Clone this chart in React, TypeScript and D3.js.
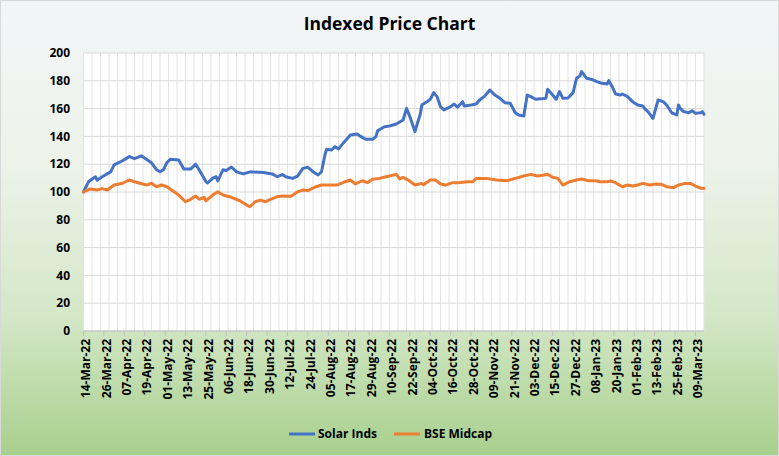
import React from 'react';
import * as d3 from 'd3';

const W = 779;
const H = 456;

const chartTitle = 'Indexed Price Chart';
const seriesNames = ['Solar Inds', 'BSE Midcap'];
const seriesColors = ['#4472c4', '#ed7d31'];
const axisStart = '2022-03-14';
const axisEnd = '2023-03-14';
const yTicks = [0, 20, 40, 60, 80, 100, 120, 140, 160, 180, 200];

const solarDates = [
  '2022-03-14', '2022-03-17', '2022-03-21', '2022-03-22', '2022-03-25', '2022-03-30', '2022-04-01', '2022-04-06',
  '2022-04-08', '2022-04-10', '2022-04-13', '2022-04-17', '2022-04-20', '2022-04-23', '2022-04-26', '2022-04-28',
  '2022-04-30', '2022-05-02', '2022-05-04', '2022-05-09', '2022-05-12', '2022-05-16', '2022-05-19', '2022-05-21',
  '2022-05-25', '2022-05-26', '2022-05-29', '2022-05-31', '2022-06-01', '2022-06-04', '2022-06-06', '2022-06-09',
  '2022-06-12', '2022-06-16', '2022-06-20', '2022-06-28', '2022-07-03', '2022-07-06', '2022-07-09', '2022-07-11',
  '2022-07-15', '2022-07-18', '2022-07-21', '2022-07-24', '2022-07-27', '2022-07-30', '2022-08-01', '2022-08-03',
  '2022-08-04', '2022-08-07', '2022-08-09', '2022-08-11', '2022-08-14', '2022-08-18', '2022-08-22', '2022-08-24',
  '2022-08-27', '2022-08-31', '2022-09-02', '2022-09-03', '2022-09-07', '2022-09-10', '2022-09-14', '2022-09-18',
  '2022-09-20', '2022-09-22', '2022-09-25', '2022-09-27', '2022-09-28', '2022-09-29', '2022-10-02', '2022-10-04',
  '2022-10-06', '2022-10-08', '2022-10-10', '2022-10-12', '2022-10-16', '2022-10-18', '2022-10-20', '2022-10-23',
  '2022-10-24', '2022-10-28', '2022-10-31', '2022-11-02', '2022-11-05', '2022-11-08', '2022-11-11', '2022-11-14',
  '2022-11-17', '2022-11-20', '2022-11-23', '2022-11-25', '2022-11-28', '2022-11-30', '2022-12-02', '2022-12-05',
  '2022-12-08', '2022-12-11', '2022-12-12', '2022-12-15', '2022-12-17', '2022-12-19', '2022-12-21', '2022-12-24',
  '2022-12-27', '2022-12-29', '2022-12-31', '2023-01-01', '2023-01-04', '2023-01-07', '2023-01-10', '2023-01-13',
  '2023-01-16', '2023-01-17', '2023-01-19', '2023-01-21', '2023-01-24', '2023-01-25', '2023-01-28', '2023-01-31',
  '2023-02-03', '2023-02-06', '2023-02-07', '2023-02-09', '2023-02-12', '2023-02-15', '2023-02-18', '2023-02-20',
  '2023-02-23', '2023-02-26', '2023-02-27', '2023-02-28', '2023-03-02', '2023-03-05', '2023-03-07', '2023-03-09',
  '2023-03-12', '2023-03-13', '2023-03-14',
];
const solarValues = [
  100, 107.5, 111, 108.5, 111, 114.5, 119.5, 122.5,
  124, 125.5, 124, 126, 123.5, 121, 116, 114.5,
  116, 121, 123.5, 123, 116.5, 116.5, 120, 116,
  107.5, 106.5, 110, 111, 108, 116, 115.5, 118,
  114.5, 113, 114.5, 114, 113, 111, 112.5, 111,
  109.8, 111.5, 117, 117.8, 114.6, 112.2, 114.6, 126.6,
  130.7, 130.2, 132.6, 131, 135.5, 141, 141.7, 140,
  137.9, 137.9, 139.8, 144, 147, 147.5, 148.9, 151.8,
  160.2, 154.2, 143.4, 151.8, 155.4, 162.6, 165, 166.7,
  171.5, 168.6, 161.4, 159, 161.4, 163.3, 161, 165,
  161.9, 162.6, 163.3, 166.2, 169, 173.4, 169.8, 167.4,
  164.2, 163.8, 157, 155.4, 154.7, 169.8, 168.6, 166.7,
  167, 167.4, 173.9, 169.8, 166.7, 172.2, 167.4, 167.6,
  171.5, 181.8, 183.5, 186.6, 181.8, 181, 179.4, 178.2,
  177.7, 180.1, 175.8, 170.5, 169.8, 170.5, 168.6, 165,
  162.6, 161.9, 160.2, 157.8, 153, 166.2, 165, 162.6,
  157, 155.4, 162.6, 160.2, 157.8, 157, 158.5, 156.6,
  157, 157.8, 155.9,
];

const bseDates = [
  '2022-03-14', '2022-03-18', '2022-03-22', '2022-03-25', '2022-03-28', '2022-04-01', '2022-04-06', '2022-04-09',
  '2022-04-10', '2022-04-13', '2022-04-20', '2022-04-23', '2022-04-26', '2022-04-29', '2022-05-02', '2022-05-09',
  '2022-05-13', '2022-05-16', '2022-05-19', '2022-05-21', '2022-05-24', '2022-05-25', '2022-05-29', '2022-06-01',
  '2022-06-04', '2022-06-09', '2022-06-14', '2022-06-18', '2022-06-20', '2022-06-23', '2022-06-26', '2022-06-29',
  '2022-07-02', '2022-07-06', '2022-07-09', '2022-07-14', '2022-07-18', '2022-07-21', '2022-07-24', '2022-07-28',
  '2022-08-01', '2022-08-06', '2022-08-10', '2022-08-15', '2022-08-18', '2022-08-21', '2022-08-25', '2022-08-28',
  '2022-08-31', '2022-09-04', '2022-09-08', '2022-09-14', '2022-09-16', '2022-09-18', '2022-09-21', '2022-09-25',
  '2022-09-29', '2022-09-30', '2022-10-04', '2022-10-07', '2022-10-10', '2022-10-13', '2022-10-17', '2022-10-20',
  '2022-10-26', '2022-10-29', '2022-10-31', '2022-11-06', '2022-11-12', '2022-11-18', '2022-11-23', '2022-11-28',
  '2022-12-02', '2022-12-06', '2022-12-09', '2022-12-12', '2022-12-15', '2022-12-18', '2022-12-21', '2022-12-25',
  '2022-12-29', '2023-01-01', '2023-01-05', '2023-01-09', '2023-01-12', '2023-01-16', '2023-01-18', '2023-01-21',
  '2023-01-25', '2023-01-28', '2023-01-31', '2023-02-03', '2023-02-06', '2023-02-10', '2023-02-14', '2023-02-17',
  '2023-02-20', '2023-02-24', '2023-02-27', '2023-03-03', '2023-03-06', '2023-03-09', '2023-03-12', '2023-03-14',
];
const bseValues = [
  100, 102.2, 101.4, 102.4, 101.4, 105, 106.3, 108.1,
  108.6, 107.4, 105, 106.3, 103.8, 105, 103.8, 97.8,
  93, 94.7, 97.1, 94.8, 96.2, 93.7, 97.8, 100.2,
  97.8, 96.2, 93.7, 90.6, 89.4, 93, 94.2, 93,
  94.7, 96.6, 97.1, 97, 100.2, 101.4, 101, 103.4,
  105, 105, 105, 107.4, 108.6, 105.8, 108.1, 106.7,
  109.1, 109.8, 111, 112.7, 109.4, 110.5, 108.6, 105,
  106.2, 105.2, 108.6, 108.6, 105.8, 105, 106.7, 106.7,
  107.4, 107.4, 109.8, 109.8, 108.6, 108.1, 109.8, 111.5,
  112.7, 111.5, 112, 112.7, 110.6, 109.8, 105, 107.4,
  108.6, 109.4, 108.1, 108.1, 107.4, 107.4, 107.9, 106.7,
  103.8, 105, 104.3, 105, 106.2, 105, 105.8, 105.5,
  103.8, 103.1, 105, 106.2, 106.2, 104.3, 102.7, 102.7,
];

const FONT = "'Open Sans', 'DejaVu Sans', sans-serif";

export default function App() {
  const parse = d3.utcParse('%Y-%m-%d');
  const start = parse(axisStart) as Date;
  const end = parse(axisEnd) as Date;

  const left = 83.5;
  const right = 704;
  const top = 53;
  const bottom = 331;

  const x = d3.scaleUtc().domain([start, end]).range([left, right]);
  const y = d3.scaleLinear().domain([0, 200]).range([bottom, top]);

  const labelTicks = d3.range(0, 366, 12).map((i) => d3.utcDay.offset(start, i));
  const gridTicks = d3.range(0, 366, 5).map((i) => d3.utcDay.offset(start, i));
  const fmt = d3.utcFormat('%d-%b-%y');

  const series = [
    { name: seriesNames[0], color: seriesColors[0], pts: solarDates.map((d, i) => [parse(d) as Date, solarValues[i]] as [Date, number]) },
    { name: seriesNames[1], color: seriesColors[1], pts: bseDates.map((d, i) => [parse(d) as Date, bseValues[i]] as [Date, number]) },
  ];

  const line = d3
    .line<[Date, number]>()
    .x((d) => x(d[0]))
    .y((d) => y(d[1]));

  const legendItems = [
    { lx: 289, tx: 318 },
    { lx: 394, tx: 424 },
  ];

  return (
    <div style={{ position: 'absolute', left: 0, top: 0 }}>
      <svg width={W} height={H} style={{ display: 'block' }} fontFamily={FONT}>
        <defs>
          <linearGradient id="bg" x1="0" y1="0" x2="0" y2="1">
            <stop offset="0%" stopColor="#f3f5f8" />
            <stop offset="35%" stopColor="#edf3ea" />
            <stop offset="70%" stopColor="#d3e7c6" />
            <stop offset="100%" stopColor="#a8d08d" />
          </linearGradient>
        </defs>
        <rect x={0.5} y={0.5} width={W - 1} height={H - 1} fill="url(#bg)" stroke="#d9d9d9" />
        <text x={W / 2} y={30} textAnchor="middle" fontSize={17.5} fontWeight={700} fill="#000">
          {chartTitle}
        </text>
        <rect x={left} y={top} width={right - left} height={bottom - top} fill="#ffffff" />
        {gridTicks.map((d, i) => (
          <line key={'vg' + i} x1={x(d)} x2={x(d)} y1={top} y2={bottom} stroke="#e3e3e3" strokeWidth={1} />
        ))}
        {yTicks.map((t) => (
          <line key={'hg' + t} x1={left} x2={right} y1={y(t)} y2={y(t)} stroke="#d9d9d9" strokeWidth={1} />
        ))}
        {yTicks.map((t) => (
          <text key={'yl' + t} x={70} y={y(t)} dy="0.35em" textAnchor="end" fontSize={12} fontWeight={700} fill="#000">
            {t}
          </text>
        ))}
        <line x1={left} x2={right} y1={bottom} y2={bottom} stroke="#bfbfbf" strokeWidth={1} />
        {labelTicks.map((d, i) => (
          <g key={'xt' + i}>
            <line x1={x(d)} x2={x(d)} y1={bottom} y2={bottom + 5} stroke="#bfbfbf" strokeWidth={1} />
            <text
              transform={`translate(${x(d) + 2.5},${bottom + 8}) rotate(-90)`}
              textAnchor="end"
              dy="0.35em"
              fontSize={12}
              fontWeight={700}
              fill="#000"
            >
              {fmt(d)}
            </text>
          </g>
        ))}
        {series.map((s) => (
          <path
            key={s.name}
            d={line(s.pts) || ''}
            fill="none"
            stroke={s.color}
            strokeWidth={3}
            strokeLinejoin="round"
            strokeLinecap="round"
          />
        ))}
        {series.map((s, i) => (
          <g key={'lg' + i}>
            <line x1={legendItems[i].lx} x2={legendItems[i].lx + 26} y1={434} y2={434} stroke={s.color} strokeWidth={3} />
            <text x={legendItems[i].tx} y={434} dy="0.35em" fontSize={12} fontWeight={700} fill="#000">
              {s.name}
            </text>
          </g>
        ))}
      </svg>
    </div>
  );
}
